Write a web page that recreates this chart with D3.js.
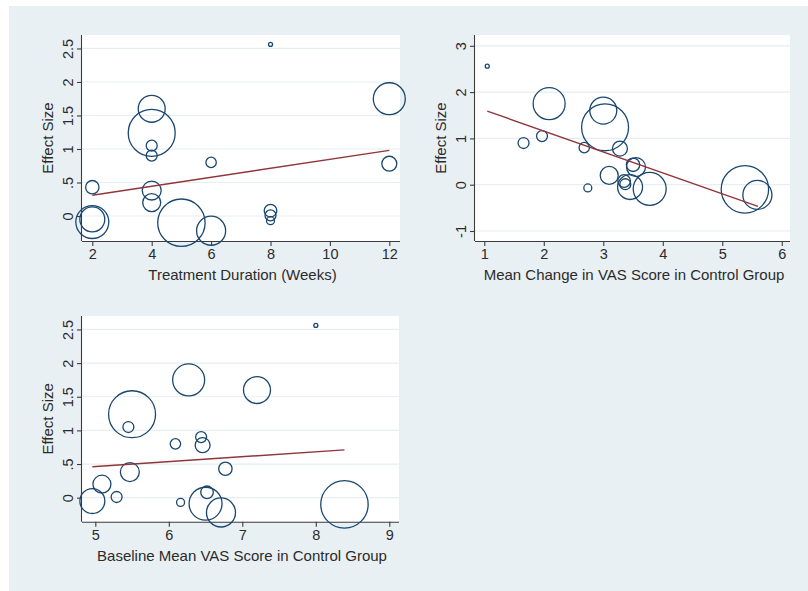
<!DOCTYPE html>
<html>
<head>
<meta charset="utf-8">
<script src="https://cdn.jsdelivr.net/npm/d3@7"></script>
<style>
  html, body { margin: 0; padding: 0; background: #ffffff; }
  svg { display: block; }
</style>
</head>
<body>
<svg id="chart" width="808" height="591"></svg>
<script>
// One entry per study: effect size and three moderators, plus meta-analytic weight
const effectSize      = [2.56, 1.75, 1.60, 1.24, 1.05, 0.90, 0.80, 0.78, 0.43, 0.38, 0.20, 0.08, 0.01, -0.07, -0.05, -0.09, -0.10, -0.22];
const durationWeeks   = [8, 12, 4, 4, 4, 4, 6, 12, 2, 4, 4, 8, 8, 8, 2, 2, 5, 6];
const controlChange   = [1.05, 2.09, 3.00, 3.03, 1.97, 1.66, 2.68, 3.28, 3.50, 3.55, 3.10, 3.35, 3.37, 2.74, 3.45, 3.78, 5.38, 5.59];
const controlBaseline = [8.00, 6.27, 7.20, 5.50, 5.45, 6.44, 6.09, 6.46, 6.77, 5.47, 5.09, 6.52, 5.29, 6.16, 4.96, 6.50, 8.39, 6.71];
const studyWeight     = [0.15, 9.7, 6.9, 20.9, 1.14, 1.14, 1.02, 2.12, 1.7, 3.4, 3.07, 1.5, 1.14, 0.6, 5.9, 10.3, 21.3, 8.0];

// Meta-regression fitted lines (endpoints)
const fitDurationX = [2, 12];       const fitDurationY = [0.31, 0.98];
const fitChangeX   = [1.05, 5.6];   const fitChangeY   = [1.59, -0.47];
const fitBaselineX = [4.96, 8.39];  const fitBaselineY = [0.46, 0.71];

// Axis ticks
const durationTicks = [2, 4, 6, 8, 10, 12];
const changeTicks   = [1, 2, 3, 4, 5, 6];
const baselineTicks = [5, 6, 7, 8, 9];
const effectTicksA  = [0, 0.5, 1, 1.5, 2, 2.5];
const effectLabelsA = ["0", ".5", "1", "1.5", "2", "2.5"];
const effectTicksB  = [-1, 0, 1, 2, 3];
const effectLabelsB = ["-1", "0", "1", "2", "3"];

const svg = d3.select("#chart");
const FONT = "'Liberation Sans', Arial, Helvetica, sans-serif";
const TEXT = "#2b2b2b";
const AXIS = "#3c3c3c";
const MARK = "#1a476f";
const FIT  = "#90353b";
const GRID = "#e6eef1";

// graph region background
svg.append("rect").attr("x", 9).attr("y", 6).attr("width", 799).attr("height", 585).attr("fill", "#e9f0f3");

const rScale = d3.scaleSqrt().domain([0, d3.max(studyWeight)]).range([0, 23.7]);

const panels = [
  { xs: durationWeeks, box: [82, 35, 400, 241], xDom: [1.653, 12.36], yDom: [-0.373, 2.701],
    xTicks: durationTicks, yTicks: effectTicksA, yLabels: effectLabelsA,
    fitX: fitDurationX, fitY: fitDurationY, xTitle: "Treatment Duration (Weeks)" },
  { xs: controlChange, box: [475, 35, 790, 241], xDom: [0.844, 6.138], yDom: [-1.216, 3.233],
    xTicks: changeTicks, yTicks: effectTicksB, yLabels: effectLabelsB,
    fitX: fitChangeX, fitY: fitChangeY, xTitle: "Mean Change in VAS Score in Control Group" },
  { xs: controlBaseline, box: [82, 316, 399, 521.7], xDom: [4.819, 9.132], yDom: [-0.357, 2.70],
    xTicks: baselineTicks, yTicks: effectTicksA, yLabels: effectLabelsA,
    fitX: fitBaselineX, fitY: fitBaselineY, xTitle: "Baseline Mean VAS Score in Control Group" }
];

panels.forEach(p => {
  const [l, t, r, b] = p.box;
  const x = d3.scaleLinear().domain(p.xDom).range([l, r]);
  const y = d3.scaleLinear().domain(p.yDom).range([b, t]);
  const g = svg.append("g");

  // plot region
  g.append("rect").attr("x", l).attr("y", t).attr("width", r - l).attr("height", b - t).attr("fill", "#ffffff");

  // horizontal grid lines
  g.append("g").selectAll("line").data(p.yTicks).join("line")
    .attr("x1", l).attr("x2", r)
    .attr("y1", d => y(d)).attr("y2", d => y(d))
    .attr("stroke", GRID).attr("stroke-width", 1.2);

  // x axis
  const xa = g.append("g").attr("transform", `translate(0,${b})`)
    .call(d3.axisBottom(x).tickValues(p.xTicks).tickFormat(d3.format("d")).tickSize(5).tickSizeOuter(0).tickPadding(3));
  xa.select(".domain").attr("d", `M${l},0.5H${r}`);
  // y axis
  const ya = g.append("g").attr("transform", `translate(${l},0)`)
    .call(d3.axisLeft(y).tickValues(p.yTicks).tickFormat((d, i) => p.yLabels[i]).tickSize(5).tickSizeOuter(0));
  ya.select(".domain").attr("d", `M-0.5,${t}V${b}`);

  [xa, ya].forEach(a => {
    a.attr("font-family", FONT).attr("font-size", 14.5);
    a.selectAll(".domain").attr("stroke", AXIS).attr("stroke-width", 1.1);
    a.selectAll(".tick line").attr("stroke", AXIS).attr("stroke-width", 1.1);
    a.selectAll(".tick text").attr("fill", TEXT);
  });
  xa.selectAll(".tick text").attr("dy", "0.71em");
  ya.selectAll(".tick text")
    .attr("transform", "rotate(-90)")
    .attr("x", 0).attr("y", -14.5).attr("dy", "0.36em")
    .attr("text-anchor", "middle");

  // weighted circles, drawn largest first (not clipped to the plot region)
  const idx = d3.range(effectSize.length).sort((a, c) => studyWeight[c] - studyWeight[a]);
  g.append("g")
    .selectAll("circle").data(idx).join("circle")
    .attr("cx", i => x(p.xs[i]))
    .attr("cy", i => y(effectSize[i]))
    .attr("r", i => rScale(studyWeight[i]))
    .attr("fill", "none").attr("stroke", MARK).attr("stroke-width", 1.3);

  // fitted line
  g.append("line")
    .attr("x1", x(p.fitX[0])).attr("y1", y(p.fitY[0]))
    .attr("x2", x(p.fitX[1])).attr("y2", y(p.fitY[1]))
    .attr("stroke", FIT).attr("stroke-width", 1.4);

  // axis titles
  g.append("text").attr("x", (l + r) / 2 + 1.5).attr("y", b + 34).attr("dy", "0.36em")
    .attr("text-anchor", "middle").attr("font-family", FONT).attr("font-size", 15).attr("fill", TEXT)
    .text(p.xTitle);
  g.append("text").attr("transform", `translate(${l - 34},${(t + b) / 2}) rotate(-90)`)
    .attr("dy", "0.36em").attr("text-anchor", "middle")
    .attr("font-family", FONT).attr("font-size", 15).attr("fill", TEXT)
    .text("Effect Size");
});
</script>
</body>
</html>
